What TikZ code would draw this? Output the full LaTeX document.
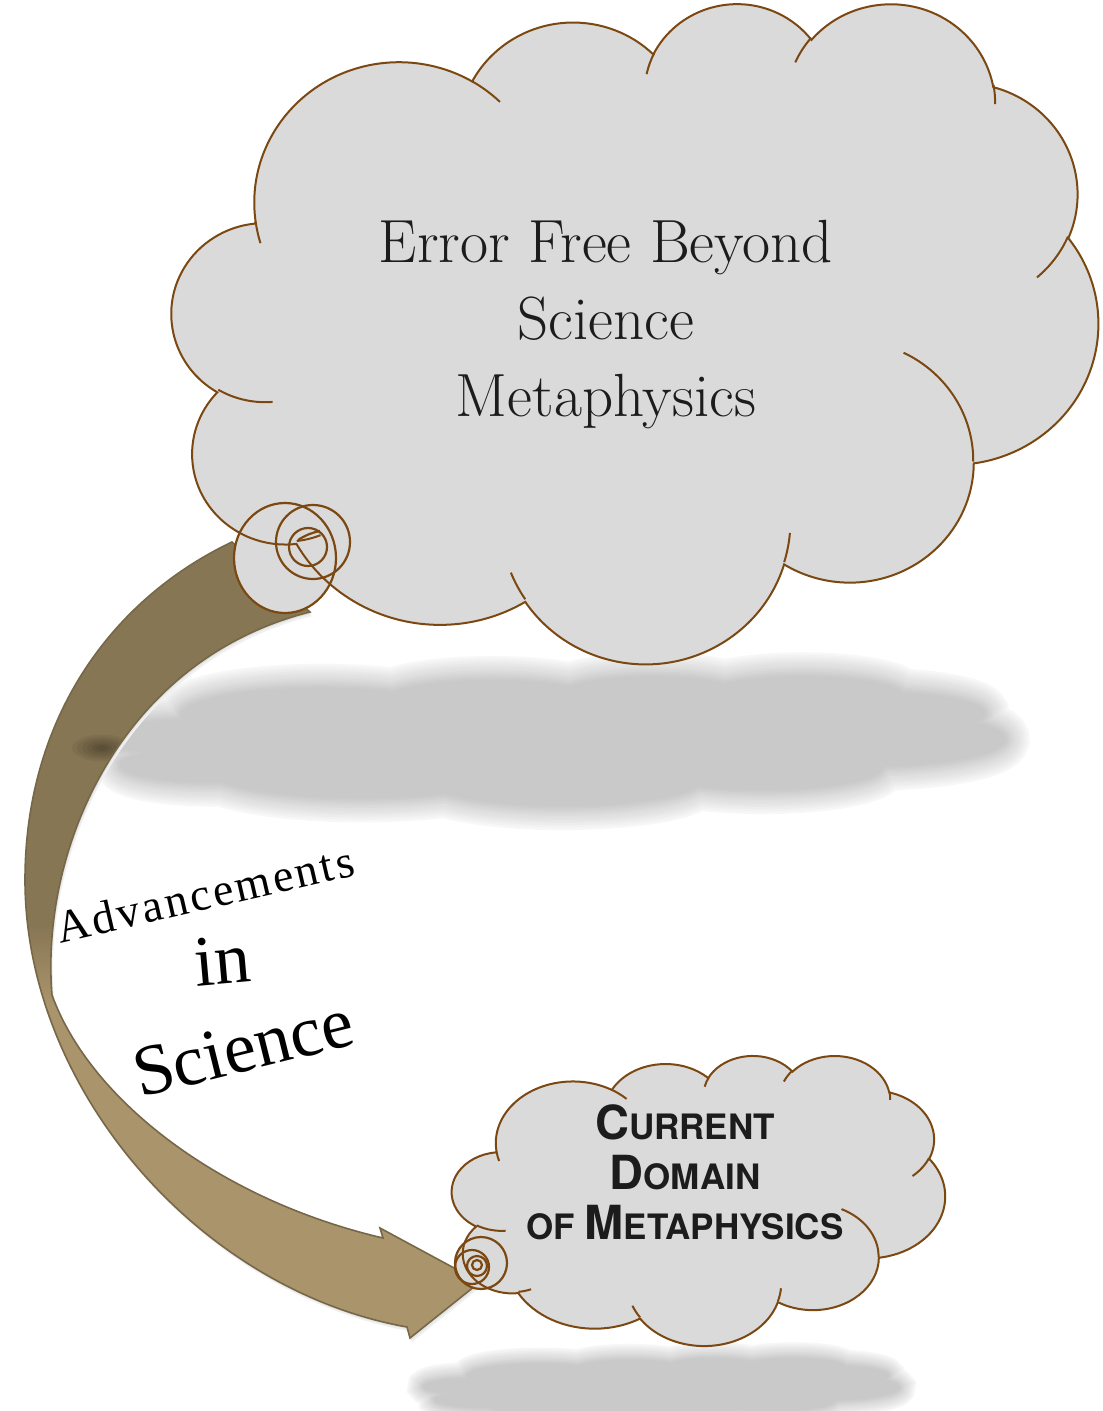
\documentclass[tikz,border=0pt]{standalone}
\usepackage{fontspec}
\newfontfamily\wordfont{Liberation Serif}
\newfontfamily\wordwide{Liberation Serif}[LetterSpace=6]
\newfontfamily\capsfont{TeX Gyre Heros}

\definecolor{cloudgray}{RGB}{218,218,218}
\definecolor{cloudbrown}{RGB}{124,72,18}
\definecolor{arrowdark}{RGB}{135,118,84}
\definecolor{arrowlight}{RGB}{170,148,108}
\definecolor{arrowedge}{RGB}{118,103,72}
\definecolor{textdark}{RGB}{28,28,28}

% one bump of the cloud: radii, start angle, sweep (angles seen from the centre)
\newcommand{\cloudarc}[4]{arc[x radius=#1, y radius=#2,
  start angle={atan2(#1*sin(#3),#2*cos(#3))},
  delta angle={mod(atan2(#1*sin(#3+#4),#2*cos(#3+#4))-atan2(#1*sin(#3),#2*cos(#3))+720,360)}]}

% cloud outline in a 432 x 432 box
\newcommand{\cloudpath}{(39,143.7)
  \cloudarc{67.53}{91.90}{-190.49}{123.78}
  \cloudarc{53.33}{72.67}{-144.10}{89.95}
  \cloudarc{43.65}{59.45}{-145.81}{99.72}
  \cloudarc{48.57}{65.95}{-130.99}{117.24}
  \cloudarc{53.33}{72.73}{-78.71}{109.03}
  \cloudarc{67.75}{92.20}{-46.27}{130.27}
  \cloudarc{57.85}{78.67}{0.63}{114.03}
  \cloudarc{67.52}{92.15}{22.45}{115.17}
  \cloudarc{77.20}{105.43}{66.24}{75.71}
  \cloudarc{43.60}{59.18}{-274.94}{146.74}
  \cloudarc{43.45}{59.45}{-246.83}{152.52} -- cycle}

% the small hooks inside the cloud
\newcommand{\cloudhooks}{
  (46.93,261.77) \cloudarc{43.45}{59.45}{86.74}{26.43}
  (69.28,348.99) \cloudarc{43.60}{59.18}{73.61}{11.45}
  (164.78,390.90) \cloudarc{67.52}{92.15}{137.62}{14.08}
  (288.27,347.51) \cloudarc{67.52}{92.15}{6.45}{16.00}
  (341.29,229.54) \cloudarc{57.85}{78.67}{-70.29}{70.92}
  (417.98,153.54) \cloudarc{53.33}{72.73}{30.32}{27.75}
  (383.24,54.26) \cloudarc{48.57}{65.95}{-13.74}{14.86}
  (290.78,39.52) \cloudarc{48.57}{65.95}{-149.18}{18.20}
  (221.41,47.20) \cloudarc{43.65}{59.45}{-163.49}{17.69}
  (140.00,51.92) \cloudarc{67.53}{91.90}{-66.71}{12.32}
  (41.27,157.89) \cloudarc{67.53}{91.90}{157.65}{11.86}}

% soft grey shadow of a cloud
\newcommand{\cloudshadow}[1]{%
  \foreach \i in {1,...,10} {%
    \pgfmathsetmacro\w{(11-\i)*#1}%
    \pgfmathtruncatemacro\c{2+1.8*\i}%
    \draw[black!\c, line width=\w pt] \cloudpath;}
  \fill[black!21] \cloudpath;}

% the bent ribbon arrow
\newcommand{\arrowpath}{(232,542) .. controls (110,600) and (25,720) .. (25,880)
  .. controls (25,1090) and (200,1290) .. (407,1327)
  -- (410,1338) -- (480,1282) -- (380,1228) -- (383,1238)
  .. controls (220,1200) and (90,1100) .. (52,995)
  .. controls (40,850) and (120,660) .. (310,612) -- cycle}

\newcommand{\scbig}[1]{{\fontsize{23.5}{25}\selectfont #1}}

\begin{document}
\begin{tikzpicture}[x=0.5pt, y=-0.5pt,
    curl/.style={draw=cloudbrown, line width=1.1pt},
    cloudbody/.style={fill=cloudgray, draw=cloudbrown, line width=1pt},
    wordart/.style={text=black, inner sep=0pt}]
  \useasboundingbox (0,0) rectangle (1102,1411);
  \fill[white] (0,0) rectangle (1102,1411);

  % Shadows under the clouds
  \begin{scope}[shift={(100,676)}, xscale=2.095, yscale=0.30]
    \cloudshadow{2.4}
  \end{scope}
  \begin{scope}[shift={(424,1358)}, xscale=1.10, yscale=0.14]
    \cloudshadow{1.6}
  \end{scope}

  % Arrow
  \begin{scope}[shift={(2,4)}]
    \fill[black!6] \arrowpath;
  \end{scope}
  \begin{scope}[shift={(1,2)}]
    \fill[black!11] \arrowpath;
  \end{scope}
  \begin{scope}
    \clip \arrowpath;
    \fill[arrowdark] (0,500) rectangle (520,925);
    \shade[top color=arrowdark, bottom color=arrowlight] (0,925) rectangle (520,1005);
    \fill[arrowlight] (0,1005) rectangle (520,1400);
    \foreach \r in {30,25,20,15,10,6}
      {\fill[black, opacity=0.06] (102,748) ellipse [x radius=\r, y radius=0.45*\r];}
  \end{scope}
  \draw[arrowedge, line width=0.8pt] \arrowpath;

  % Big cloud
  \fill[cloudgray] (285,558) ellipse [x radius=51, y radius=55];
  \begin{scope}[shift={(172,2)}, xscale=2.1435, yscale=1.5278]
    \path[cloudbody] \cloudpath;
    \draw[cloudbrown, line width=1pt] \cloudhooks;
  \end{scope}
  \draw[curl] (285,558) ellipse [x radius=51, y radius=55];
  \draw[curl] (313,542) circle [radius=37];
  \draw[curl] (308,547) circle [radius=19];
  \draw[curl] (298,540) to[bend left=10] (320,531);

  % Small cloud
  \fill[cloudgray] (481,1263) circle [radius=26];
  \begin{scope}[shift={(452,1055)}, xscale=1.1412, yscale=0.6713]
    \path[cloudbody] \cloudpath;
    \draw[cloudbrown, line width=1pt] \cloudhooks;
  \end{scope}
  \draw[curl] (481,1263) circle [radius=26];
  \draw[curl] (472,1267) circle [radius=17];
  \draw[curl] (477,1266) circle [radius=10];
  \draw[curl] (477,1265) circle [radius=5];

  % Texts
  \node[align=center, text=textdark, font=\fontsize{30.5}{38.5}\selectfont] (beyond) at (606,325)
    {Error Free Beyond\\Science\\Metaphysics};
  \node[align=center, text=textdark, font=\capsfont\bfseries\fontsize{17.5}{25}\selectfont] (domain) at (685,1172)
    {\scbig{C}URRENT\\\scbig{D}OMAIN\\OF \scbig{M}ETAPHYSICS};

  \node[wordart, rotate=13, font=\wordwide\fontsize{23}{23}\selectfont] (adv) at (205,894) {Advancements};
  \node[wordart, rotate=5, font=\wordfont\fontsize{36}{36}\selectfont] (in) at (222,960) {in};
  \node[wordart, rotate=14, font=\wordfont\fontsize{36}{36}\selectfont] (sci) at (243,1048) {Science};
\end{tikzpicture}
\end{document}
